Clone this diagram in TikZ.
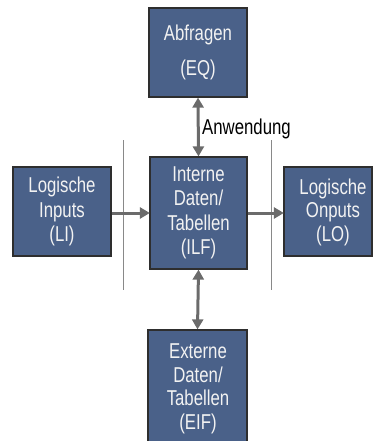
\documentclass[tikz,border=0pt]{standalone}
\usepackage{fontspec}
\setmainfont{Liberation Sans}[FakeStretch=0.78]
\usetikzlibrary{arrows.meta}
\definecolor{boxfill}{HTML}{4A6189}
\definecolor{boxline}{HTML}{2E2E2E}
\definecolor{arrgray}{HTML}{6B6B6B}
\definecolor{txtwhite}{HTML}{F2F2F2}
\begin{document}
\begin{tikzpicture}[x=1pt,y=-1pt,
  box/.style={draw=boxline, line width=1.2pt, fill=boxfill, text=txtwhite, align=center,
    inner sep=0pt, font=\fontsize{21.5}{24.5}\selectfont},
  boxtext/.style={text=txtwhite, align=center, inner sep=0pt, font=\fontsize{21.5}{23.5}\selectfont},
  conn/.style={draw=arrgray, line width=3pt, arrows={-Triangle[length=10pt,width=11pt]}, shorten >=-0.5pt},
  dconn/.style={draw=arrgray, line width=3pt, arrows={Triangle[length=10pt,width=11pt]-Triangle[length=10pt,width=11pt]}},
  sep/.style={draw=arrgray!80, line width=0.9pt}]
\useasboundingbox (0,0) rectangle (373,441);
\clip (0,0) rectangle (373,441);
% boxes
\node[box, minimum width=98, minimum height=89] (eq) at (198,52.5) {Abfragen\\[10pt](EQ)};
\node[box, minimum width=97, minimum height=112] (ilf) at (198.5,213) {Interne\\Daten/\\Tabellen\\(ILF)};
\node[box, minimum width=98, minimum height=89] (li) at (62,211.5) {Logische\\Inputs\\(LI)};
\node[box, minimum width=88, minimum height=89] (lo) at (328,211.5) {};
\node[boxtext] (lotext) at (333,212) {Logische\\Onputs\\(LO)};
\node[box, minimum width=99, minimum height=122] (eif) at (197.5,391) {};
\node[boxtext] (eiftext) at (198,389) {Externe\\Daten/\\Tabellen\\(EIF)};
% separators
\coordinate (s1a) at (123,140); \coordinate (s1b) at (123,290);
\coordinate (s2a) at (271,140); \coordinate (s2b) at (271,290);
\draw[sep] (s1a) -- (s1b);
\draw[sep] (s2a) -- (s2b);
% connectors
\draw[dconn] (eq.south) -- (ilf.north);
\draw[dconn] (ilf.south) -- (eif.north);
\draw[conn] (li.east |- 0,213) -- (ilf.west |- 0,213);
\draw[conn] (ilf.east |- 0,213) -- (lo.west |- 0,213);
\node[anchor=west, inner sep=0pt, font=\fontsize{21.5}{24}\selectfont] (anw) at (202,129) {Anwendung};
\end{tikzpicture}
\end{document}
